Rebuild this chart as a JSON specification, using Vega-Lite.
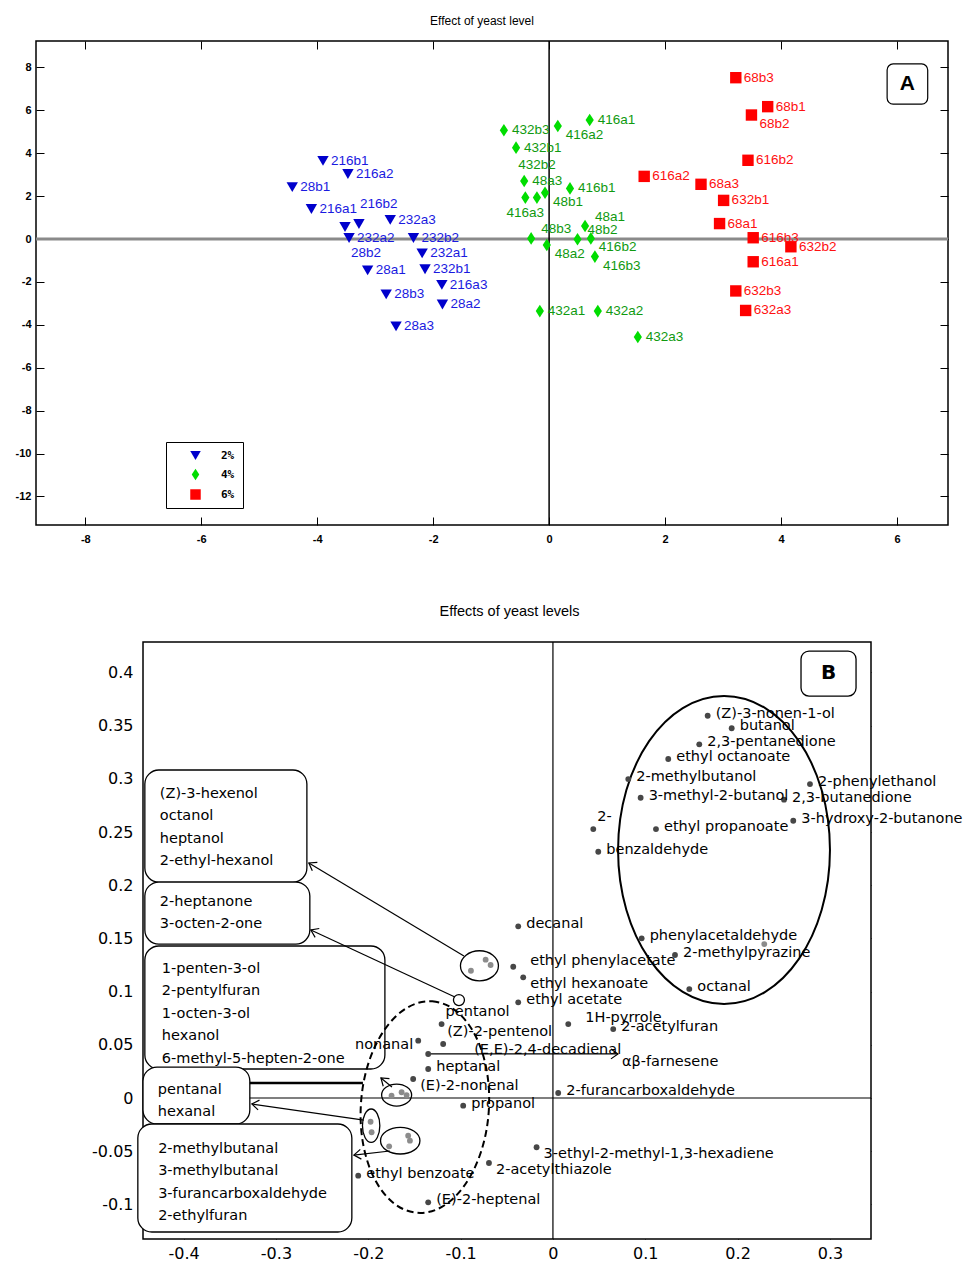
{
  "$schema": "https://vega.github.io/schema/vega-lite/v6.json",
  "background": "white",
  "padding": {"left": 14, "top": 14, "right": 5, "bottom": 0},
  "spacing": 58,
  "config": {
    "view": {"stroke": "black", "strokeWidth": 1.5},
    "font": "DejaVu Sans"
  },
  "datasets": {
    "yeastA": [
      {"id": "216b1", "level": "2%", "x": -3.90, "y": 3.64},
      {"id": "216a2", "level": "2%", "x": -3.47, "y": 3.03},
      {"id": "28b1", "level": "2%", "x": -4.43, "y": 2.42},
      {"id": "216a1", "level": "2%", "x": -4.10, "y": 1.40},
      {"id": "216b2", "level": "2%", "x": -3.28, "y": 0.70},
      {"id": "232a3", "level": "2%", "x": -2.74, "y": 0.89},
      {"id": "28b2", "level": "2%", "x": -3.52, "y": 0.56},
      {"id": "232a2", "level": "2%", "x": -3.45, "y": 0.05},
      {"id": "232b2", "level": "2%", "x": -2.34, "y": 0.05},
      {"id": "232a1", "level": "2%", "x": -2.19, "y": -0.67},
      {"id": "232b1", "level": "2%", "x": -2.14, "y": -1.41},
      {"id": "28a1", "level": "2%", "x": -3.13, "y": -1.46},
      {"id": "216a3", "level": "2%", "x": -1.85, "y": -2.14},
      {"id": "28b3", "level": "2%", "x": -2.81, "y": -2.58},
      {"id": "28a2", "level": "2%", "x": -1.84, "y": -3.05},
      {"id": "28a3", "level": "2%", "x": -2.64, "y": -4.07},
      {"id": "416a1", "level": "4%", "x": 0.70, "y": 5.55},
      {"id": "432b3", "level": "4%", "x": -0.78, "y": 5.07},
      {"id": "416a2", "level": "4%", "x": 0.15, "y": 5.27},
      {"id": "432b1", "level": "4%", "x": -0.57, "y": 4.26},
      {"id": "48a3", "level": "4%", "x": -0.43, "y": 2.70},
      {"id": "416b1", "level": "4%", "x": 0.36, "y": 2.36},
      {"id": "416a3", "level": "4%", "x": -0.41, "y": 1.93},
      {"id": "432b2", "level": "4%", "x": -0.21, "y": 1.93},
      {"id": "48b1", "level": "4%", "x": -0.07, "y": 2.16},
      {"id": "48a1", "level": "4%", "x": 0.62, "y": 0.61},
      {"id": "48b3", "level": "4%", "x": -0.31, "y": 0.03},
      {"id": "48a2", "level": "4%", "x": -0.04, "y": -0.28},
      {"id": "48b2", "level": "4%", "x": 0.49, "y": -0.01},
      {"id": "416b2", "level": "4%", "x": 0.72, "y": 0.03},
      {"id": "416b3", "level": "4%", "x": 0.79, "y": -0.82},
      {"id": "432a1", "level": "4%", "x": -0.16, "y": -3.36},
      {"id": "432a2", "level": "4%", "x": 0.84, "y": -3.36},
      {"id": "432a3", "level": "4%", "x": 1.53, "y": -4.57},
      {"id": "68b3", "level": "6%", "x": 3.22, "y": 7.52},
      {"id": "68b1", "level": "6%", "x": 3.77, "y": 6.17},
      {"id": "68b2", "level": "6%", "x": 3.49, "y": 5.78},
      {"id": "616b2", "level": "6%", "x": 3.43, "y": 3.67},
      {"id": "616a2", "level": "6%", "x": 1.64, "y": 2.92},
      {"id": "68a3", "level": "6%", "x": 2.62, "y": 2.55},
      {"id": "632b1", "level": "6%", "x": 3.01, "y": 1.80},
      {"id": "68a1", "level": "6%", "x": 2.94, "y": 0.72},
      {"id": "616b3", "level": "6%", "x": 3.52, "y": 0.06},
      {"id": "632b2", "level": "6%", "x": 4.17, "y": -0.36},
      {"id": "616a1", "level": "6%", "x": 3.52, "y": -1.06},
      {"id": "632b3", "level": "6%", "x": 3.22, "y": -2.42},
      {"id": "632a3", "level": "6%", "x": 3.39, "y": -3.33}
    ],
    "volB": [
      {"label": "(Z)-3-nonen-1-ol", "x": 0.1676, "y": 0.3593},
      {"label": "butanol", "x": 0.1936, "y": 0.3475},
      {"label": "2,3-pentanedione", "x": 0.1585, "y": 0.3324},
      {"label": "ethyl  octanoate", "x": 0.1249, "y": 0.3186},
      {"label": "2-methylbutanol", "x": 0.0816, "y": 0.2998},
      {"label": "3-methyl-2-butanol", "x": 0.0950, "y": 0.2822},
      {"label": "2-phenylethanol", "x": 0.2784, "y": 0.2951},
      {"label": "2,3-butanedione", "x": 0.2503, "y": 0.2804},
      {"label": "3-hydroxy-2-butanone", "x": 0.2603, "y": 0.2606},
      {"label": "ethyl propanoate", "x": 0.1116, "y": 0.2528},
      {"label": "2-", "x": 0.0437, "y": 0.2528},
      {"label": "benzaldehyde", "x": 0.0491, "y": 0.2315},
      {"label": "phenylacetaldehyde", "x": 0.0961, "y": 0.1501},
      {"label": "", "x": 0.2289, "y": 0.1447},
      {"label": "2-methylpyrazine", "x": 0.1322, "y": 0.1344},
      {"label": "octanal", "x": 0.1477, "y": 0.1024},
      {"label": "decanal", "x": -0.0376, "y": 0.1614},
      {"label": "ethyl phenylacetate", "x": -0.0430, "y": 0.1234},
      {"label": "ethyl hexanoate", "x": -0.0322, "y": 0.1134},
      {"label": "ethyl acetate", "x": -0.0376, "y": 0.0899},
      {"label": "1H-pyrrole", "x": 0.0166, "y": 0.0695},
      {"label": "2-acetylfuran", "x": 0.0653, "y": 0.0648},
      {"label": "pentanol", "x": -0.1206, "y": 0.0695},
      {"label": "nonanal", "x": -0.1459, "y": 0.0539},
      {"label": "(Z)-2-pentenol", "x": -0.1189, "y": 0.0508},
      {"label": "(E,E)-2,4-decadienal", "x": -0.1351, "y": 0.0414},
      {"label": "heptanal", "x": -0.1351, "y": 0.0273},
      {"label": "(E)-2-nonenal", "x": -0.1514, "y": 0.0179},
      {"label": "propanol", "x": -0.0972, "y": -0.0072},
      {"label": "2-furancarboxaldehyde", "x": 0.0057, "y": 0.0047},
      {"label": "3-ethyl-2-methyl-1,3-hexadiene", "x": -0.0177, "y": -0.0463},
      {"label": "2-acetylthiazole", "x": -0.0693, "y": -0.0611},
      {"label": "ethyl benzoate", "x": -0.2109, "y": -0.0730},
      {"label": "(E)-2-heptenal", "x": -0.1351, "y": -0.0980},
      {"label": "", "x": -0.0888, "y": 0.1196},
      {"label": "", "x": -0.0729, "y": 0.1300},
      {"label": "", "x": -0.0675, "y": 0.1250},
      {"label": "", "x": -0.1748, "y": 0.0022},
      {"label": "", "x": -0.1639, "y": 0.0054},
      {"label": "", "x": -0.1585, "y": 0.0028},
      {"label": "", "x": -0.1975, "y": -0.0223},
      {"label": "", "x": -0.1964, "y": -0.0322},
      {"label": "", "x": -0.1774, "y": -0.0454},
      {"label": "", "x": -0.1568, "y": -0.0354},
      {"label": "", "x": -0.1549, "y": -0.0401}
    ],
    "ellipses": [
      {"id": "big", "x": 0.1853, "y": 0.2331},
      {"id": "dash", "x": -0.1387, "y": -0.0085},
      {"id": "e1", "x": -0.0796, "y": 0.1243},
      {"id": "e2", "x": -0.1018, "y": 0.0921},
      {"id": "e3", "x": -0.1693, "y": 0.0028},
      {"id": "e4", "x": -0.1969, "y": -0.0260},
      {"id": "e5", "x": -0.1654, "y": -0.0401}
    ],
    "arrows": [
      {"x": -0.0964, "y": 0.1335, "x2": -0.2644, "y2": 0.2209},
      {"x": -0.1062, "y": 0.0949, "x2": -0.2622, "y2": 0.1579},
      {"x": -0.1744, "y": 0.0103, "x2": -0.1863, "y2": 0.0188},
      {"x": -0.2048, "y": -0.0207, "x2": -0.3261, "y2": -0.0056},
      {"x": -0.1766, "y": -0.0498, "x2": -0.2156, "y2": -0.0536},
      {"x": -0.1354, "y": 0.0414, "x2": 0.0704, "y2": 0.0414}
    ],
    "boxes": [
      {"x": -0.442, "x2": -0.2665, "y": 0.3083, "y2": 0.2030, "txt": "(Z)-3-hexenol\noctanol\nheptanol\n2-ethyl-hexanol", "tx": -0.4258, "ty": 0.2857},
      {"x": -0.442, "x2": -0.2633, "y": 0.2030, "y2": 0.1447, "txt": "2-heptanone\n3-octen-2-one", "tx": -0.4258, "ty": 0.1842},
      {"x": -0.442, "x2": -0.182, "y": 0.1429, "y2": 0.0273, "txt": "1-penten-3-ol\n2-pentylfuran\n1-octen-3-ol\nhexanol\n6-methyl-5-hepten-2-one", "tx": -0.4236, "ty": 0.1212},
      {"x": -0.444, "x2": -0.3283, "y": 0.0291, "y2": -0.0244, "txt": "pentanal\nhexanal", "tx": -0.428, "ty": 0.0075},
      {"x": -0.4496, "x2": -0.2178, "y": -0.0244, "y2": -0.1259, "txt": "2-methylbutanal\n3-methylbutanal\n3-furancarboxaldehyde\n\u00a0\u00a0\u00a02-ethylfuran", "tx": -0.4276, "ty": -0.0479}
    ]
  },
  "vconcat": [
    {
      "width": 912,
      "height": 484,
      "title": {"text": "Effect of yeast level", "font": "Liberation Sans", "fontSize": 12, "fontWeight": "normal", "color": "black", "offset": 12, "anchor": "middle", "dx": -10},
      "resolve": {"axis": {"x": "independent", "y": "independent"}},
      "layer": [
        {
          "data": {"values": [{"v": 0}]},
          "mark": {"type": "rule", "color": "#8a8a8a", "strokeWidth": 3},
          "encoding": {"y": {"field": "v", "type": "quantitative", "scale": {"domain": [-13.33, 9.23], "nice": false, "zero": false}, "axis": null}}
        },
        {
          "data": {"values": [{"v": 0}]},
          "mark": {"type": "rule", "color": "black", "strokeWidth": 1.5},
          "encoding": {"x": {"field": "v", "type": "quantitative", "scale": {"domain": [-8.85, 6.88], "nice": false, "zero": false}, "axis": null}}
        },
        {
          "data": {"name": "yeastA"},
          "mark": {"type": "point", "filled": true, "size": 130, "opacity": 1},
          "encoding": {
            "x": {"field": "x", "type": "quantitative", "scale": {"domain": [-8.85, 6.88], "nice": false, "zero": false},
              "axis": {"orient": "bottom", "values": [-8, -6, -4, -2, 0, 2, 4, 6], "tickSize": -8, "labelPadding": 16, "domain": false, "grid": false, "title": null, "tickColor": "black", "labelColor": "black", "labelFont": "Liberation Sans", "labelFontWeight": "bold", "labelFontSize": 11, "labelExpr": "replace(datum.label, '\u2212', '-')"}},
            "y": {"field": "y", "type": "quantitative", "scale": {"domain": [-13.33, 9.23], "nice": false, "zero": false},
              "axis": {"orient": "left", "values": [-12, -10, -8, -6, -4, -2, 0, 2, 4, 6, 8], "tickSize": -8, "labelPadding": 13, "domain": false, "grid": false, "title": null, "tickColor": "black", "labelColor": "black", "labelFont": "Liberation Sans", "labelFontWeight": "bold", "labelFontSize": 11, "labelExpr": "replace(datum.label, '\u2212', '-')"}},
            "color": {"field": "level", "type": "nominal", "scale": {"domain": ["2%", "4%", "6%"], "range": ["#0000cc", "#00dd00", "#ff0000"]},
              "legend": {"orient": "none", "legendX": 130, "legendY": 401, "title": null, "strokeColor": "black", "fillColor": "white", "padding": 8, "labelFont": "DejaVu Sans Mono", "labelFontSize": 11, "labelFontWeight": "bold", "labelColor": "black", "symbolSize": 110, "rowPadding": 7, "symbolOffset": 16, "labelOffset": 20, "symbolStrokeWidth": 0}},
            "shape": {"field": "level", "type": "nominal", "scale": {"domain": ["2%", "4%", "6%"], "range": ["triangle-down", "M 0 -1.1 L 0.72 0 L 0 1.1 L -0.72 0 Z", "square"]},
              "legend": {"orient": "none", "legendX": 130, "legendY": 401, "title": null, "strokeColor": "black", "fillColor": "white", "padding": 8, "labelFont": "DejaVu Sans Mono", "labelFontSize": 11, "labelFontWeight": "bold", "labelColor": "black", "symbolSize": 110, "rowPadding": 7, "symbolOffset": 16, "labelOffset": 20, "symbolStrokeWidth": 0}}
          }
        },
        {
          "data": {"name": "yeastA"},
          "transform": [{"filter": "indexof(['216b2','432b2','28b2','416a3','48b2','48b3','48a1','416b2','48a2','48b1','416a2','68b2','416b3'], datum.id) < 0"}],
          "mark": {"type": "text", "align": "left", "baseline": "middle", "dx": 8, "dy": 0, "font": "Liberation Sans", "fontSize": 13.5},
          "encoding": {
            "x": {"field": "x", "type": "quantitative", "scale": {"domain": [-8.85, 6.88], "nice": false, "zero": false}, "axis": null},
            "y": {"field": "y", "type": "quantitative", "scale": {"domain": [-13.33, 9.23], "nice": false, "zero": false}, "axis": null},
            "text": {"field": "id"},
            "color": {"condition": [{"test": "datum.level === '2%'", "value": "#1a1ae0"}, {"test": "datum.level === '4%'", "value": "#109a10"}], "value": "#ff1010"}
          }
        },
        {
          "data": {"name": "yeastA"},
          "transform": [{"filter": "indexof(['48b2','48b3','48a1'], datum.id) >= 0"}],
          "mark": {"type": "text", "align": "left", "baseline": "middle", "dx": 10, "dy": -9, "font": "Liberation Sans", "fontSize": 13.5},
          "encoding": {
            "x": {"field": "x", "type": "quantitative", "scale": {"domain": [-8.85, 6.88], "nice": false, "zero": false}, "axis": null},
            "y": {"field": "y", "type": "quantitative", "scale": {"domain": [-13.33, 9.23], "nice": false, "zero": false}, "axis": null},
            "text": {"field": "id"},
            "color": {"condition": [{"test": "datum.level === '2%'", "value": "#1a1ae0"}, {"test": "datum.level === '4%'", "value": "#109a10"}], "value": "#ff1010"}
          }
        },
        {
          "data": {"name": "yeastA"},
          "transform": [{"filter": "indexof(['416b2','48a2','48b1','416a2','68b2','416b3'], datum.id) >= 0"}],
          "mark": {"type": "text", "align": "left", "baseline": "middle", "dx": 8, "dy": 9, "font": "Liberation Sans", "fontSize": 13.5},
          "encoding": {
            "x": {"field": "x", "type": "quantitative", "scale": {"domain": [-8.85, 6.88], "nice": false, "zero": false}, "axis": null},
            "y": {"field": "y", "type": "quantitative", "scale": {"domain": [-13.33, 9.23], "nice": false, "zero": false}, "axis": null},
            "text": {"field": "id"},
            "color": {"condition": [{"test": "datum.level === '2%'", "value": "#1a1ae0"}, {"test": "datum.level === '4%'", "value": "#109a10"}], "value": "#ff1010"}
          }
        },
        {
          "data": {"name": "yeastA"},
          "transform": [{"filter": "datum.id === '216b2'"}],
          "mark": {"type": "text", "align": "left", "baseline": "middle", "dx": 1, "dy": -20, "font": "Liberation Sans", "fontSize": 13.5},
          "encoding": {
            "x": {"field": "x", "type": "quantitative", "scale": {"domain": [-8.85, 6.88], "nice": false, "zero": false}, "axis": null},
            "y": {"field": "y", "type": "quantitative", "scale": {"domain": [-13.33, 9.23], "nice": false, "zero": false}, "axis": null},
            "text": {"field": "id"},
            "color": {"condition": [{"test": "datum.level === '2%'", "value": "#1a1ae0"}, {"test": "datum.level === '4%'", "value": "#109a10"}], "value": "#ff1010"}
          }
        },
        {
          "data": {"name": "yeastA"},
          "transform": [{"filter": "datum.id === '432b2'"}],
          "mark": {"type": "text", "align": "center", "baseline": "middle", "dx": 0, "dy": -33, "font": "Liberation Sans", "fontSize": 13.5},
          "encoding": {
            "x": {"field": "x", "type": "quantitative", "scale": {"domain": [-8.85, 6.88], "nice": false, "zero": false}, "axis": null},
            "y": {"field": "y", "type": "quantitative", "scale": {"domain": [-13.33, 9.23], "nice": false, "zero": false}, "axis": null},
            "text": {"field": "id"},
            "color": {"condition": [{"test": "datum.level === '2%'", "value": "#1a1ae0"}, {"test": "datum.level === '4%'", "value": "#109a10"}], "value": "#ff1010"}
          }
        },
        {
          "data": {"name": "yeastA"},
          "transform": [{"filter": "datum.id === '28b2'"}],
          "mark": {"type": "text", "align": "left", "baseline": "middle", "dx": 6, "dy": 26, "font": "Liberation Sans", "fontSize": 13.5},
          "encoding": {
            "x": {"field": "x", "type": "quantitative", "scale": {"domain": [-8.85, 6.88], "nice": false, "zero": false}, "axis": null},
            "y": {"field": "y", "type": "quantitative", "scale": {"domain": [-13.33, 9.23], "nice": false, "zero": false}, "axis": null},
            "text": {"field": "id"},
            "color": {"condition": [{"test": "datum.level === '2%'", "value": "#1a1ae0"}, {"test": "datum.level === '4%'", "value": "#109a10"}], "value": "#ff1010"}
          }
        },
        {
          "data": {"name": "yeastA"},
          "transform": [{"filter": "datum.id === '416a3'"}],
          "mark": {"type": "text", "align": "center", "baseline": "middle", "dx": 0, "dy": 15, "font": "Liberation Sans", "fontSize": 13.5},
          "encoding": {
            "x": {"field": "x", "type": "quantitative", "scale": {"domain": [-8.85, 6.88], "nice": false, "zero": false}, "axis": null},
            "y": {"field": "y", "type": "quantitative", "scale": {"domain": [-13.33, 9.23], "nice": false, "zero": false}, "axis": null},
            "text": {"field": "id"},
            "color": {"condition": [{"test": "datum.level === '2%'", "value": "#1a1ae0"}, {"test": "datum.level === '4%'", "value": "#109a10"}], "value": "#ff1010"}
          }
        },
        {
          "data": {"values": [{"x": 5.83, "x2": 6.53, "y": 8.16, "y2": 6.29}]},
          "mark": {"type": "rect", "fill": "white", "stroke": "black", "strokeWidth": 1.2, "cornerRadius": 6},
          "encoding": {
            "x": {"field": "x", "type": "quantitative", "scale": {"domain": [-8.85, 6.88], "nice": false, "zero": false}, "axis": null},
            "x2": {"field": "x2"},
            "y": {"field": "y", "type": "quantitative", "scale": {"domain": [-13.33, 9.23], "nice": false, "zero": false}, "axis": null},
            "y2": {"field": "y2"}
          }
        },
        {
          "data": {"values": [{"t": "A", "tx": 6.18, "ty": 7.22}]},
          "mark": {"type": "text", "align": "center", "baseline": "middle", "font": "Liberation Sans", "fontSize": 21, "fontWeight": "bold", "color": "black"},
          "encoding": {
            "x": {"field": "tx", "type": "quantitative", "scale": {"domain": [-8.85, 6.88], "nice": false, "zero": false}, "axis": null},
            "y": {"field": "ty", "type": "quantitative", "scale": {"domain": [-13.33, 9.23], "nice": false, "zero": false}, "axis": null},
            "text": {"field": "t"}
          }
        },
        {
          "data": {"values": [{"v": 0}]},
          "mark": {"type": "point", "opacity": 0},
          "encoding": {
            "x": {"field": "v", "type": "quantitative", "scale": {"domain": [-8.85, 6.88], "nice": false, "zero": false},
              "axis": {"orient": "top", "values": [-8, -6, -4, -2, 0, 2, 4, 6], "tickSize": -8, "labels": false, "domain": false, "grid": false, "title": null, "tickColor": "black"}},
            "y": {"field": "v", "type": "quantitative", "scale": {"domain": [-13.33, 9.23], "nice": false, "zero": false},
              "axis": {"orient": "right", "values": [-12, -10, -8, -6, -4, -2, 0, 2, 4, 6, 8], "tickSize": -8, "labels": false, "domain": false, "grid": false, "title": null, "tickColor": "black"}}
          }
        }
      ]
    },
    {
      "width": 835,
      "height": 597,
      "view": {"stroke": null},
      "title": {"text": "Effects of yeast levels", "font": "Liberation Sans", "fontSize": 14.5, "fontWeight": "normal", "color": "black", "offset": 22, "anchor": "middle", "dx": 56},
      "resolve": {"axis": {"x": "independent", "y": "independent"}},
      "layer": [
        {
          "data": {"values": [{"x": -0.444, "x2": 0.3445, "y": -0.1325, "y2": 0.4286}]},
          "mark": {"type": "rect", "fill": "white", "stroke": "black", "strokeWidth": 1.5},
          "encoding": {
            "x": {"field": "x", "type": "quantitative", "scale": {"domain": [-0.5599, 0.3445], "nice": false, "zero": false}, "axis": null},
            "x2": {"field": "x2"},
            "y": {"field": "y", "type": "quantitative", "scale": {"domain": [-0.1325, 0.4286], "nice": false, "zero": false}, "axis": null},
            "y2": {"field": "y2"}
          }
        },
        {
          "data": {"values": [{"x": -0.444, "x2": 0.3445, "v": 0}]},
          "mark": {"type": "rule", "color": "black", "strokeWidth": 1.2},
          "encoding": {
            "x": {"field": "x", "type": "quantitative", "scale": {"domain": [-0.5599, 0.3445], "nice": false, "zero": false}, "axis": null},
            "x2": {"field": "x2"},
            "y": {"field": "v", "type": "quantitative", "scale": {"domain": [-0.1325, 0.4286], "nice": false, "zero": false}, "axis": null}
          }
        },
        {
          "data": {"values": [{"v": 0}]},
          "mark": {"type": "rule", "color": "black", "strokeWidth": 1.2},
          "encoding": {"x": {"field": "v", "type": "quantitative", "scale": {"domain": [-0.5599, 0.3445], "nice": false, "zero": false}, "axis": null}}
        },
        {
          "data": {"name": "boxes"},
          "mark": {"type": "rect", "fill": "white", "stroke": "black", "strokeWidth": 1.3, "cornerRadius": 14},
          "encoding": {
            "x": {"field": "x", "type": "quantitative", "scale": {"domain": [-0.5599, 0.3445], "nice": false, "zero": false}, "axis": null},
            "x2": {"field": "x2"},
            "y": {"field": "y", "type": "quantitative", "scale": {"domain": [-0.1325, 0.4286], "nice": false, "zero": false}, "axis": null},
            "y2": {"field": "y2"}
          }
        },
        {
          "data": {"name": "boxes"},
          "mark": {"type": "text", "align": "left", "baseline": "middle", "lineBreak": "\n", "lineHeight": 22.4, "font": "DejaVu Sans", "fontSize": 14.5, "color": "black"},
          "encoding": {
            "x": {"field": "tx", "type": "quantitative", "scale": {"domain": [-0.5599, 0.3445], "nice": false, "zero": false}, "axis": null},
            "y": {"field": "ty", "type": "quantitative", "scale": {"domain": [-0.1325, 0.4286], "nice": false, "zero": false}, "axis": null},
            "text": {"field": "txt"}
          }
        },
        {
          "data": {"name": "ellipses"},
          "transform": [{"filter": "datum.id === 'big'"}],
          "mark": {"type": "point", "filled": false, "stroke": "black", "strokeWidth": 2, "opacity": 1, "size": 94864, "shape": "M 0 -1 C 0.38 -1 0.688 -0.552 0.688 0 C 0.688 0.552 0.38 1 0 1 C -0.38 1 -0.688 0.552 -0.688 0 C -0.688 -0.552 -0.38 -1 0 -1 Z"},
          "encoding": {
            "x": {"field": "x", "type": "quantitative", "scale": {"domain": [-0.5599, 0.3445], "nice": false, "zero": false}, "axis": null},
            "y": {"field": "y", "type": "quantitative", "scale": {"domain": [-0.1325, 0.4286], "nice": false, "zero": false}, "axis": null}
          }
        },
        {
          "data": {"name": "ellipses"},
          "transform": [{"filter": "datum.id === 'dash'"}],
          "mark": {"type": "point", "filled": false, "stroke": "black", "strokeWidth": 2, "strokeDash": [7, 4], "opacity": 1, "size": 44944, "angle": 4, "shape": "M 0 -1 C 0.334 -1 0.604 -0.552 0.604 0 C 0.604 0.552 0.334 1 0 1 C -0.334 1 -0.604 0.552 -0.604 0 C -0.604 -0.552 -0.334 -1 0 -1 Z"},
          "encoding": {
            "x": {"field": "x", "type": "quantitative", "scale": {"domain": [-0.5599, 0.3445], "nice": false, "zero": false}, "axis": null},
            "y": {"field": "y", "type": "quantitative", "scale": {"domain": [-0.1325, 0.4286], "nice": false, "zero": false}, "axis": null}
          }
        },
        {
          "data": {"name": "ellipses"},
          "transform": [{"filter": "datum.id === 'e1'"}],
          "mark": {"type": "point", "filled": false, "stroke": "black", "strokeWidth": 1.3, "opacity": 1, "size": 1444, "shape": "M -1 0 C -1 -0.436 -0.552 -0.79 0 -0.79 C 0.552 -0.79 1 -0.436 1 0 C 1 0.436 0.552 0.79 0 0.79 C -0.552 0.79 -1 0.436 -1 0 Z"},
          "encoding": {
            "x": {"field": "x", "type": "quantitative", "scale": {"domain": [-0.5599, 0.3445], "nice": false, "zero": false}, "axis": null},
            "y": {"field": "y", "type": "quantitative", "scale": {"domain": [-0.1325, 0.4286], "nice": false, "zero": false}, "axis": null}
          }
        },
        {
          "data": {"name": "ellipses"},
          "transform": [{"filter": "datum.id === 'e2'"}],
          "mark": {"type": "point", "filled": false, "stroke": "black", "strokeWidth": 1.3, "opacity": 1, "size": 121, "shape": "circle"},
          "encoding": {
            "x": {"field": "x", "type": "quantitative", "scale": {"domain": [-0.5599, 0.3445], "nice": false, "zero": false}, "axis": null},
            "y": {"field": "y", "type": "quantitative", "scale": {"domain": [-0.1325, 0.4286], "nice": false, "zero": false}, "axis": null}
          }
        },
        {
          "data": {"name": "ellipses"},
          "transform": [{"filter": "datum.id === 'e3'"}],
          "mark": {"type": "point", "filled": false, "stroke": "black", "strokeWidth": 1.3, "opacity": 1, "size": 900, "shape": "M -1 0 C -1 -0.405 -0.552 -0.733 0 -0.733 C 0.552 -0.733 1 -0.405 1 0 C 1 0.405 0.552 0.733 0 0.733 C -0.552 0.733 -1 0.405 -1 0 Z"},
          "encoding": {
            "x": {"field": "x", "type": "quantitative", "scale": {"domain": [-0.5599, 0.3445], "nice": false, "zero": false}, "axis": null},
            "y": {"field": "y", "type": "quantitative", "scale": {"domain": [-0.1325, 0.4286], "nice": false, "zero": false}, "axis": null}
          }
        },
        {
          "data": {"name": "ellipses"},
          "transform": [{"filter": "datum.id === 'e4'"}],
          "mark": {"type": "point", "filled": false, "stroke": "black", "strokeWidth": 1.3, "opacity": 1, "size": 1116, "shape": "M 0 -1 C 0.287 -1 0.52 -0.552 0.52 0 C 0.52 0.552 0.287 1 0 1 C -0.287 1 -0.52 0.552 -0.52 0 C -0.52 -0.552 -0.287 -1 0 -1 Z"},
          "encoding": {
            "x": {"field": "x", "type": "quantitative", "scale": {"domain": [-0.5599, 0.3445], "nice": false, "zero": false}, "axis": null},
            "y": {"field": "y", "type": "quantitative", "scale": {"domain": [-0.1325, 0.4286], "nice": false, "zero": false}, "axis": null}
          }
        },
        {
          "data": {"name": "ellipses"},
          "transform": [{"filter": "datum.id === 'e5'"}],
          "mark": {"type": "point", "filled": false, "stroke": "black", "strokeWidth": 1.3, "opacity": 1, "size": 1552, "shape": "M -1 0 C -1 -0.373 -0.552 -0.675 0 -0.675 C 0.552 -0.675 1 -0.373 1 0 C 1 0.373 0.552 0.675 0 0.675 C -0.552 0.675 -1 0.373 -1 0 Z"},
          "encoding": {
            "x": {"field": "x", "type": "quantitative", "scale": {"domain": [-0.5599, 0.3445], "nice": false, "zero": false}, "axis": null},
            "y": {"field": "y", "type": "quantitative", "scale": {"domain": [-0.1325, 0.4286], "nice": false, "zero": false}, "axis": null}
          }
        },
        {
          "data": {"values": [{"x": -0.3283, "y": 0.0141, "x2": -0.2058, "y2": 0.0141}]},
          "mark": {"type": "rule", "color": "black", "strokeWidth": 2.5},
          "encoding": {
            "x": {"field": "x", "type": "quantitative", "scale": {"domain": [-0.5599, 0.3445], "nice": false, "zero": false}, "axis": null},
            "x2": {"field": "x2"},
            "y": {"field": "y", "type": "quantitative", "scale": {"domain": [-0.1325, 0.4286], "nice": false, "zero": false}, "axis": null},
            "y2": {"field": "y2"}
          }
        },
        {
          "data": {"name": "arrows"},
          "mark": {"type": "rule", "color": "black", "strokeWidth": 1.2},
          "encoding": {
            "x": {"field": "x", "type": "quantitative", "scale": {"domain": [-0.5599, 0.3445], "nice": false, "zero": false}, "axis": null},
            "x2": {"field": "x2"},
            "y": {"field": "y", "type": "quantitative", "scale": {"domain": [-0.1325, 0.4286], "nice": false, "zero": false}, "axis": null},
            "y2": {"field": "y2"}
          }
        },
        {
          "data": {"name": "arrows"},
          "transform": [{"calculate": "atan2(-(datum.y2 - datum.y) * 1064, (datum.x2 - datum.x) * 923) * 180 / PI", "as": "ang"}],
          "mark": {"type": "point", "filled": false, "stroke": "black", "strokeWidth": 1.2, "opacity": 1, "size": 196, "shape": "M -1 -0.7 L 0 0 L -1 0.7"},
          "encoding": {
            "x": {"field": "x2", "type": "quantitative", "scale": {"domain": [-0.5599, 0.3445], "nice": false, "zero": false}, "axis": null},
            "y": {"field": "y2", "type": "quantitative", "scale": {"domain": [-0.1325, 0.4286], "nice": false, "zero": false}, "axis": null},
            "angle": {"field": "ang", "type": "quantitative", "scale": null}
          }
        },
        {
          "data": {"values": [{"x": 0.2687, "x2": 0.3283, "y": 0.4201, "y2": 0.3778}]},
          "mark": {"type": "rect", "fill": "white", "stroke": "black", "strokeWidth": 1.3, "cornerRadius": 8},
          "encoding": {
            "x": {"field": "x", "type": "quantitative", "scale": {"domain": [-0.5599, 0.3445], "nice": false, "zero": false}, "axis": null},
            "x2": {"field": "x2"},
            "y": {"field": "y", "type": "quantitative", "scale": {"domain": [-0.1325, 0.4286], "nice": false, "zero": false}, "axis": null},
            "y2": {"field": "y2"}
          }
        },
        {
          "data": {"values": [{"t": "B", "tx": 0.2985, "ty": 0.399}]},
          "mark": {"type": "text", "align": "center", "baseline": "middle", "font": "DejaVu Sans", "fontSize": 20, "fontWeight": "bold", "color": "black"},
          "encoding": {
            "x": {"field": "tx", "type": "quantitative", "scale": {"domain": [-0.5599, 0.3445], "nice": false, "zero": false}, "axis": null},
            "y": {"field": "ty", "type": "quantitative", "scale": {"domain": [-0.1325, 0.4286], "nice": false, "zero": false}, "axis": null},
            "text": {"field": "t"}
          }
        },
        {
          "data": {"name": "volB"},
          "mark": {"type": "circle", "size": 34, "opacity": 1},
          "encoding": {
            "x": {"field": "x", "type": "quantitative", "scale": {"domain": [-0.5599, 0.3445], "nice": false, "zero": false},
              "axis": {"orient": "bottom", "values": [-0.4, -0.3, -0.2, -0.1, 0, 0.1, 0.2, 0.3], "format": ".1~f", "tickSize": -6, "labelPadding": 12, "domain": false, "grid": false, "title": null, "tickColor": "black", "labelColor": "black", "labelFont": "DejaVu Sans", "labelFontSize": 16, "labelExpr": "replace(datum.label, '\u2212', '-')"}},
            "y": {"field": "y", "type": "quantitative", "scale": {"domain": [-0.1325, 0.4286], "nice": false, "zero": false},
              "axis": {"orient": "left", "offset": -107, "values": [-0.1, -0.05, 0, 0.05, 0.1, 0.15, 0.2, 0.25, 0.3, 0.35, 0.4], "format": ".2~f", "tickSize": -6, "labelPadding": 16, "domain": false, "grid": false, "title": null, "tickColor": "black", "labelColor": "black", "labelFont": "DejaVu Sans", "labelFontSize": 16, "labelExpr": "replace(datum.label, '\u2212', '-')"}},
            "color": {"condition": {"test": "datum.label === ''", "value": "#8c8c8c"}, "value": "#474747"}
          }
        },
        {
          "data": {"name": "volB"},
          "transform": [{"filter": "datum.label !== '' && indexof(['nonanal','2-','pentanol','(Z)-2-pentenol','(E,E)-2,4-decadienal','ethyl hexanoate','(E)-2-nonenal','2-acetylthiazole','3-ethyl-2-methyl-1,3-hexadiene','ethyl phenylacetate','1H-pyrrole'], datum.label) < 0"}],
          "mark": {"type": "text", "align": "left", "baseline": "middle", "dx": 8, "dy": -2, "font": "DejaVu Sans", "fontSize": 14.5, "color": "black"},
          "encoding": {
            "x": {"field": "x", "type": "quantitative", "scale": {"domain": [-0.5599, 0.3445], "nice": false, "zero": false}, "axis": null},
            "y": {"field": "y", "type": "quantitative", "scale": {"domain": [-0.1325, 0.4286], "nice": false, "zero": false}, "axis": null},
            "text": {"field": "label"}
          }
        },
        {
          "data": {"name": "volB"},
          "transform": [{"filter": "indexof(['ethyl hexanoate','(E)-2-nonenal','2-acetylthiazole','3-ethyl-2-methyl-1,3-hexadiene'], datum.label) >= 0"}],
          "mark": {"type": "text", "align": "left", "baseline": "middle", "dx": 7, "dy": 7, "font": "DejaVu Sans", "fontSize": 14.5, "color": "black"},
          "encoding": {
            "x": {"field": "x", "type": "quantitative", "scale": {"domain": [-0.5599, 0.3445], "nice": false, "zero": false}, "axis": null},
            "y": {"field": "y", "type": "quantitative", "scale": {"domain": [-0.1325, 0.4286], "nice": false, "zero": false}, "axis": null},
            "text": {"field": "label"}
          }
        },
        {
          "data": {"name": "volB"},
          "transform": [{"filter": "indexof(['ethyl phenylacetate','1H-pyrrole'], datum.label) >= 0"}],
          "mark": {"type": "text", "align": "left", "baseline": "middle", "dx": 17, "dy": -6, "font": "DejaVu Sans", "fontSize": 14.5, "color": "black"},
          "encoding": {
            "x": {"field": "x", "type": "quantitative", "scale": {"domain": [-0.5599, 0.3445], "nice": false, "zero": false}, "axis": null},
            "y": {"field": "y", "type": "quantitative", "scale": {"domain": [-0.1325, 0.4286], "nice": false, "zero": false}, "axis": null},
            "text": {"field": "label"}
          }
        },
        {
          "data": {"name": "volB"},
          "transform": [{"filter": "datum.label === 'nonanal'"}],
          "mark": {"type": "text", "align": "right", "baseline": "middle", "dx": -5, "dy": 4, "font": "DejaVu Sans", "fontSize": 14.5, "color": "black"},
          "encoding": {
            "x": {"field": "x", "type": "quantitative", "scale": {"domain": [-0.5599, 0.3445], "nice": false, "zero": false}, "axis": null},
            "y": {"field": "y", "type": "quantitative", "scale": {"domain": [-0.1325, 0.4286], "nice": false, "zero": false}, "axis": null},
            "text": {"field": "label"}
          }
        },
        {
          "data": {"name": "volB"},
          "transform": [{"filter": "indexof(['2-','pentanol','(Z)-2-pentenol'], datum.label) >= 0"}],
          "mark": {"type": "text", "align": "left", "baseline": "middle", "dx": 4, "dy": -12, "font": "DejaVu Sans", "fontSize": 14.5, "color": "black"},
          "encoding": {
            "x": {"field": "x", "type": "quantitative", "scale": {"domain": [-0.5599, 0.3445], "nice": false, "zero": false}, "axis": null},
            "y": {"field": "y", "type": "quantitative", "scale": {"domain": [-0.1325, 0.4286], "nice": false, "zero": false}, "axis": null},
            "text": {"field": "label"}
          }
        },
        {
          "data": {"name": "volB"},
          "transform": [{"filter": "datum.label === '(E,E)-2,4-decadienal'"}],
          "mark": {"type": "text", "align": "left", "baseline": "middle", "dx": 46, "dy": -4, "font": "DejaVu Sans", "fontSize": 14.5, "color": "black"},
          "encoding": {
            "x": {"field": "x", "type": "quantitative", "scale": {"domain": [-0.5599, 0.3445], "nice": false, "zero": false}, "axis": null},
            "y": {"field": "y", "type": "quantitative", "scale": {"domain": [-0.1325, 0.4286], "nice": false, "zero": false}, "axis": null},
            "text": {"field": "label"}
          }
        },
        {
          "data": {"values": [{"t": "\u03b1\u03b2-farnesene", "tx": 0.0747, "ty": 0.0338}]},
          "mark": {"type": "text", "align": "left", "baseline": "middle", "font": "DejaVu Sans", "fontSize": 14.5, "color": "black"},
          "encoding": {
            "x": {"field": "tx", "type": "quantitative", "scale": {"domain": [-0.5599, 0.3445], "nice": false, "zero": false}, "axis": null},
            "y": {"field": "ty", "type": "quantitative", "scale": {"domain": [-0.1325, 0.4286], "nice": false, "zero": false}, "axis": null},
            "text": {"field": "t"}
          }
        },
        {
          "data": {"values": [{"v": 0}]},
          "mark": {"type": "point", "opacity": 0},
          "encoding": {
            "x": {"field": "v", "type": "quantitative", "scale": {"domain": [-0.5599, 0.3445], "nice": false, "zero": false},
              "axis": {"orient": "top", "values": [-0.4, -0.3, -0.2, -0.1, 0, 0.1, 0.2, 0.3], "tickSize": -6, "labels": false, "domain": false, "grid": false, "title": null, "tickColor": "black"}},
            "y": {"field": "v", "type": "quantitative", "scale": {"domain": [-0.1325, 0.4286], "nice": false, "zero": false},
              "axis": {"orient": "right", "values": [-0.1, -0.05, 0, 0.05, 0.1, 0.15, 0.2, 0.25, 0.3, 0.35, 0.4], "tickSize": -6, "labels": false, "domain": false, "grid": false, "title": null, "tickColor": "black"}}
          }
        }
      ]
    }
  ]
}
